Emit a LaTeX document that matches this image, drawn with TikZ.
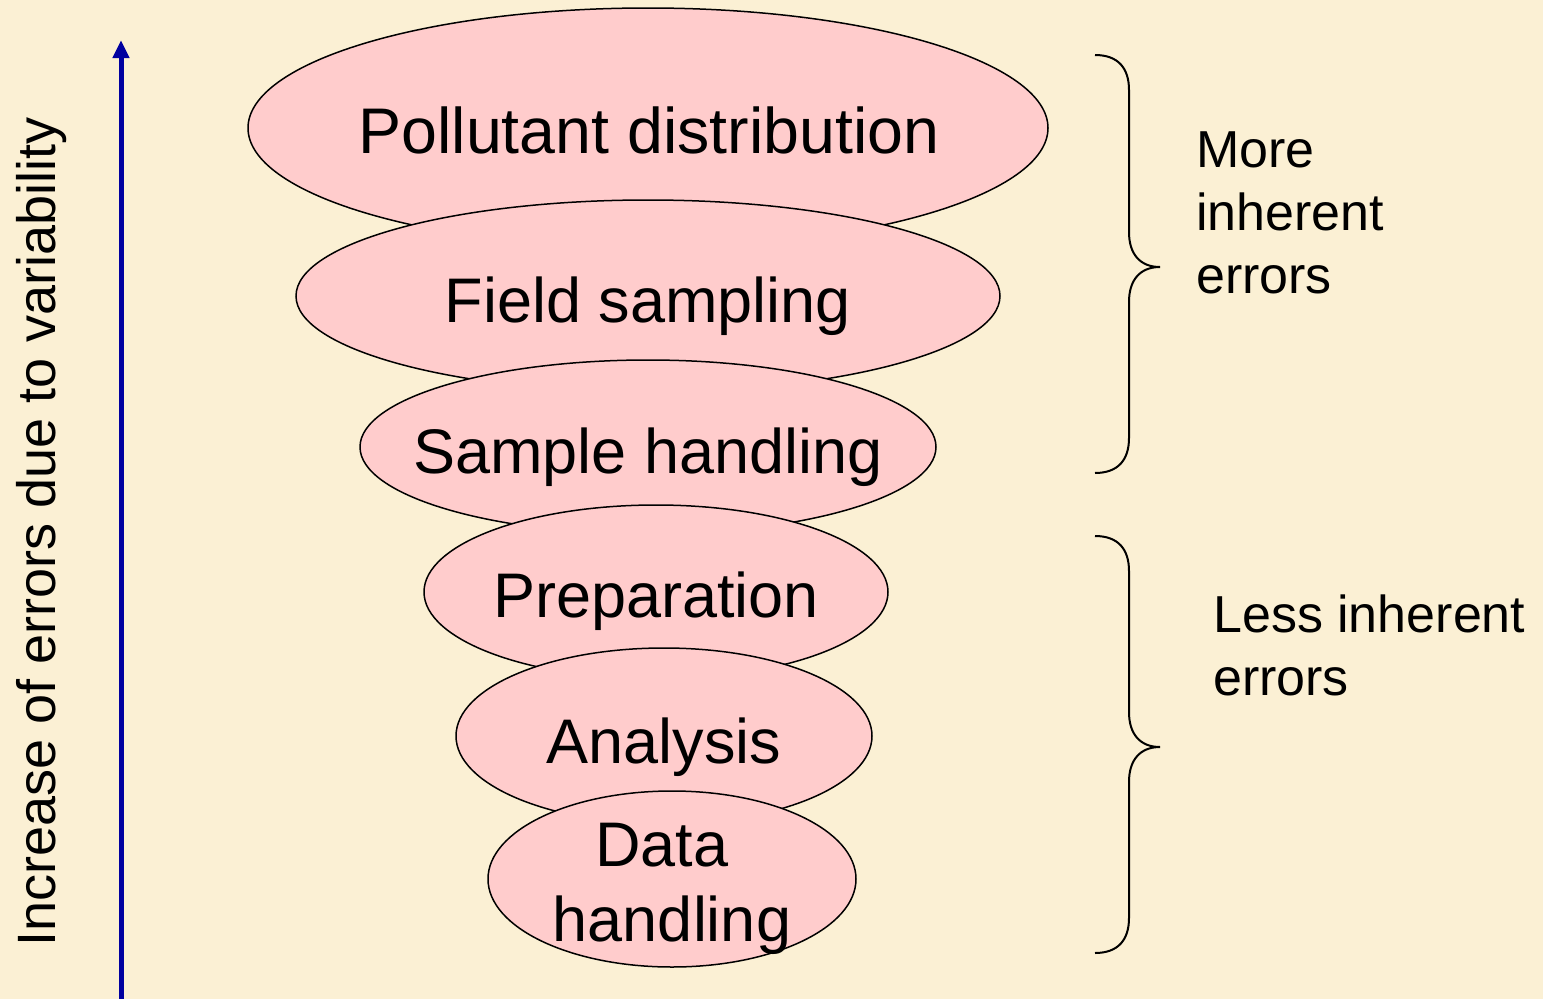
\documentclass[tikz,border=0pt]{standalone}
\usepackage{fontspec}
\setmainfont{Liberation Sans}
\usetikzlibrary{shapes.geometric,arrows.meta}
\definecolor{bg}{RGB}{251,240,212}
\definecolor{pinkfill}{RGB}{255,204,204}
\definecolor{axisblue}{RGB}{0,0,160}
\tikzset{
  stage/.style={ellipse, draw=black, line width=1.5pt, fill=pinkfill, inner sep=0pt},
  stagetext/.style={anchor=base, inner sep=0pt, font=\fontsize{63}{70}\selectfont},
  sidetext/.style={anchor=base west, inner sep=0pt, align=left, font=\fontsize{52}{63}\selectfont},
  bracepath/.style={draw=black, line width=2pt},
}
\begin{document}
\begin{tikzpicture}[x=1pt,y=-1pt]
\fill[bg] (0,0) rectangle (1543,999);
\useasboundingbox (0,0) rectangle (1543,999);
% axis
\coordinate (ax0) at (121,999);
\coordinate (ax1) at (121,40);
\draw[axisblue, line width=5pt, -{Triangle[length=18pt,width=16pt]}] (ax0) -- (ax1);
\node[anchor=base, rotate=90, inner sep=0pt, font=\fontsize{54}{60}\selectfont] (axlab) at (55,532) {Increase of errors due to variability};
% stages
\node[stage, minimum width=800pt, minimum height=240pt] (e1) at (648,128) {};
\node[stage, minimum width=704pt, minimum height=192pt] (e2) at (648,296) {};
\node[stage, minimum width=576pt, minimum height=174pt] (e3) at (648,447) {};
\node[stage, minimum width=464pt, minimum height=174pt] (e4) at (656,592) {};
\node[stage, minimum width=416pt, minimum height=176pt] (e5) at (664,736) {};
\node[stage, minimum width=368pt, minimum height=176pt] (e6) at (672,879) {};
\node[stagetext, font=\fontsize{64.5}{70}\selectfont] (t1) at (649,153) {Pollutant distribution};
\node[stagetext] (t2) at (648,322) {Field sampling};
\node[stagetext] (t3) at (648,473) {Sample handling};
\node[stagetext] (t4) at (656,617) {Preparation};
\node[stagetext] (t5) at (664,763) {Analysis};
\node[stagetext] (t6a) at (662,866) {Data};
\node[stagetext] (t6b) at (672,941) {handling};
% braces
\draw[bracepath] (1095,55) .. controls (1118,55) and (1129,68) .. (1129,90)
  -- (1129,232) .. controls (1129,254) and (1140,267) .. (1160,267)
  .. controls (1140,267) and (1129,280) .. (1129,302)
  -- (1129,438) .. controls (1129,460) and (1118,473) .. (1095,473);
\draw[bracepath] (1095,536) .. controls (1118,536) and (1129,549) .. (1129,571)
  -- (1129,712) .. controls (1129,734) and (1140,747) .. (1160,747)
  .. controls (1140,747) and (1129,760) .. (1129,782)
  -- (1129,918) .. controls (1129,940) and (1118,953) .. (1095,953);
\node[sidetext] (more) at (1196,293) {More\\inherent\\errors};
\node[sidetext] (less) at (1213,695) {Less inherent\\errors};
\end{tikzpicture}
\end{document}
